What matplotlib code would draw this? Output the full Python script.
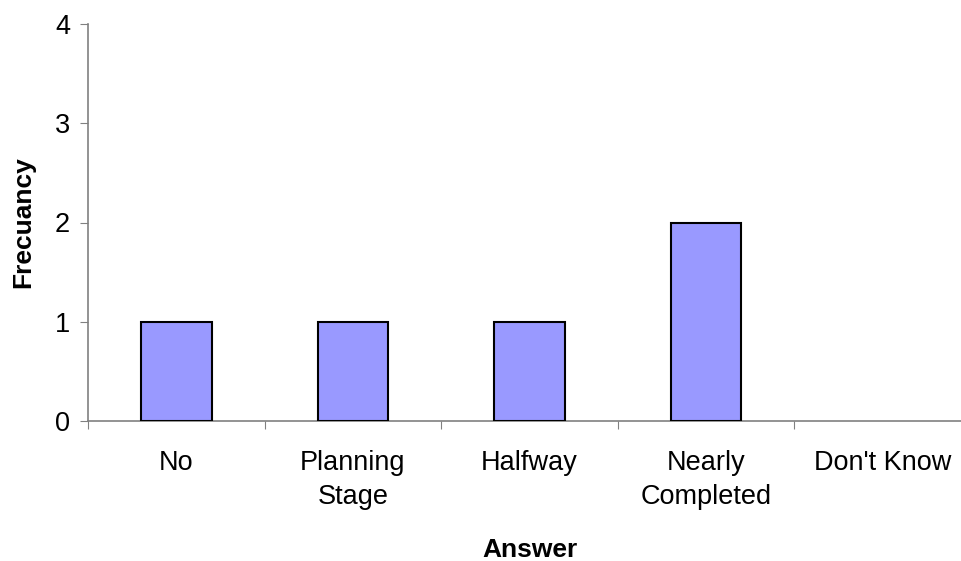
import matplotlib.pyplot as plt
import numpy as np

answers = ["No", "Planning\nStage", "Halfway", "Nearly\nCompleted", "Don't Know"]
freq = [1, 1, 1, 2, 0]
yticks = [0, 1, 2, 3, 4]

plt.rcParams['font.family'] = ['Liberation Sans', 'DejaVu Sans']

fig = plt.figure(figsize=(9.62, 5.61), dpi=100)
ax = fig.add_axes([88 / 962, 1 - 421 / 561, (971 - 88) / 962, (421 - 24) / 561])

x = np.arange(len(answers))
bars = ax.bar(x, freq, width=0.40, color='#9999FF', edgecolor='black', linewidth=1.5, zorder=3)
for b in bars:
    if b.get_height() == 0:
        b.set_linewidth(0)

ax.set_xlim(-0.5, len(answers) - 0.5)
ax.set_ylim(0, 4)
ax.set_yticks(yticks)

# boundaries get the tick marks, centres get the labels
ax.set_xticks(np.arange(len(answers) + 1) - 0.5)
ax.set_xticklabels([])
ax.set_xticks(x, minor=True)
ax.set_xticklabels(answers, minor=True, fontsize=19.5, linespacing=1.4)
ax.tick_params(axis='x', which='minor', length=0, pad=21)
ax.tick_params(axis='x', which='major', length=6, color='#808080', direction='out')
ax.tick_params(axis='y', length=6, color='#808080', labelsize=19.5, pad=7)

for s in ['top', 'right']:
    ax.spines[s].set_visible(False)
for s in ['left', 'bottom']:
    ax.spines[s].set_color('#808080')
    ax.spines[s].set_linewidth(1.2)

ax.set_xlabel("Answer", fontsize=19, fontweight='bold', labelpad=20)
ax.set_ylabel("Frecuancy", fontsize=19, fontweight='bold', labelpad=14)

fig.savefig("out.png", dpi=100)
